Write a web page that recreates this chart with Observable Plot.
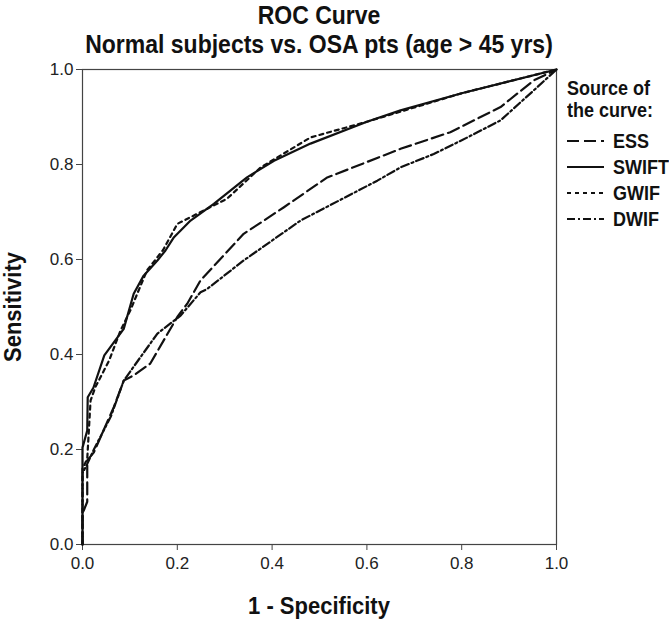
<!DOCTYPE html>
<html><head><meta charset="utf-8">
<script src="https://cdn.jsdelivr.net/npm/d3@7"></script>
<script src="https://cdn.jsdelivr.net/npm/@observablehq/plot@0.6"></script>
<style>
body{margin:0;background:#fff;}
#wrap{position:relative;width:671px;height:623px;font-family:"Liberation Sans",Arial,sans-serif;color:#111;}
#wrap > svg{position:absolute;left:0;top:0;}
.t{position:absolute;font-weight:bold;white-space:nowrap;line-height:1;}
.ctr{left:82px;width:474px;text-align:center;transform:scaleY(1.1);}
#leg{position:absolute;left:567px;top:79px;font-weight:bold;font-size:18px;line-height:1;}
#leg .row{display:flex;align-items:center;height:26px;}
#leg .row span{display:inline-block;transform:scaleY(1.1);}
#leg svg{margin-right:9px;}
</style></head>
<body>
<div id="wrap">
  <div class="t ctr" style="top:4px;font-size:23px;">ROC Curve</div>
  <div class="t ctr" style="top:33px;font-size:23px;">Normal subjects vs. OSA pts (age &gt; 45 yrs)</div>
  <div class="t ctr" style="top:595px;font-size:22px;">1 - Specificity</div>
  <div class="t" style="left:13px;top:307px;font-size:22px;transform:translate(-50%,-50%) rotate(-90deg) scaleY(1.1);">Sensitivity</div>
  <div id="leg"></div>
</div>
<script>
// Tick values
const xTicks = [0, 0.2, 0.4, 0.6, 0.8, 1.0];
const yTicks = [0, 0.2, 0.4, 0.6, 0.8, 1.0];

// Series names (legend order)
const seriesNames = ["ESS", "SWIFT", "GWIF", "DWIF"];

// ESS (1 - specificity, sensitivity)
const essX = [0, 0, 0.01, 0.01, 0.024, 0.066, 0.087, 0.108, 0.143, 0.2, 0.221, 0.249, 0.34, 0.425, 0.515, 0.671, 0.776, 0.882, 0.917, 0.952, 1];
const essY = [0, 0.065, 0.09, 0.177, 0.194, 0.289, 0.345, 0.356, 0.381, 0.479, 0.507, 0.556, 0.654, 0.71, 0.772, 0.833, 0.868, 0.921, 0.949, 0.977, 1];

// SWIFT
const swiftX = [0, 0, 0.01, 0.011, 0.023, 0.046, 0.087, 0.108, 0.129, 0.158, 0.175, 0.193, 0.228, 0.277, 0.347, 0.404, 0.481, 0.6, 0.671, 0.8, 1];
const swiftY = [0, 0.204, 0.24, 0.31, 0.33, 0.398, 0.454, 0.528, 0.566, 0.598, 0.619, 0.647, 0.682, 0.717, 0.773, 0.808, 0.844, 0.89, 0.914, 0.95, 1];

// GWIF
const gwifX = [0, 0, 0.01, 0.017, 0.027, 0.056, 0.08, 0.101, 0.136, 0.17, 0.2, 0.305, 0.376, 0.481, 0.6, 0.8, 1];
const gwifY = [0, 0.16, 0.18, 0.303, 0.331, 0.387, 0.45, 0.493, 0.577, 0.62, 0.675, 0.728, 0.794, 0.857, 0.89, 0.95, 1];

// DWIF
const dwifX = [0, 0, 0.01, 0.024, 0.06, 0.087, 0.122, 0.158, 0.207, 0.249, 0.263, 0.34, 0.46, 0.622, 0.671, 0.741, 0.812, 0.882, 0.952, 1];
const dwifY = [0, 0.15, 0.17, 0.2, 0.27, 0.345, 0.394, 0.444, 0.482, 0.531, 0.538, 0.598, 0.682, 0.766, 0.794, 0.822, 0.857, 0.893, 0.956, 1];

const dashes = {ESS: "12,5", SWIFT: "none", GWIF: "4,4", DWIF: "8,3,2,3"};

function rows(name, xs, ys) { return xs.map((x, i) => ({series: name, fpr: x, tpr: ys[i]})); }
const data = [
  ...rows("ESS", essX, essY),
  ...rows("SWIFT", swiftX, swiftY),
  ...rows("GWIF", gwifX, gwifY),
  ...rows("DWIF", dwifX, dwifY)
];

const chart = Plot.plot({
  width: 671, height: 623,
  marginLeft: 82, marginRight: 115, marginTop: 69, marginBottom: 79,
  style: {fontFamily: '"Liberation Sans",Arial,sans-serif', fontSize: "17px", color: "#222", background: "transparent"},
  x: {domain: [0, 1], label: null},
  y: {domain: [0, 1], label: null},
  marks: [
    Plot.frame({stroke: "#444", strokeWidth: 1.2}),
    Plot.axisX({ticks: xTicks, tickFormat: d3.format(".1f"), tickSize: 6, tickPadding: 6, label: null, stroke: "#444"}),
    Plot.axisY({ticks: yTicks, tickFormat: d3.format(".1f"), tickSize: 6, tickPadding: 3, label: null, stroke: "#444"}),
    ...seriesNames.map(s => Plot.line(data.filter(d => d.series === s), {
      x: "fpr", y: "tpr", stroke: "#111", strokeWidth: 2.2,
      strokeDasharray: dashes[s] === "none" ? null : dashes[s], curve: "linear"
    }))
  ]
});
document.getElementById("wrap").prepend(chart);

// Legend
const leg = document.getElementById("leg");
leg.innerHTML = '<div style="line-height:20px;margin-bottom:9px;transform:scaleY(1.1);">Source of<br>the curve:</div>';
for (const s of seriesNames) {
  const row = document.createElement("div");
  row.className = "row";
  const dash = dashes[s] === "none" ? "" : `stroke-dasharray="${dashes[s]}"`;
  row.innerHTML = `<svg width="37" height="6"><line x1="0" y1="3" x2="37" y2="3" stroke="#111" stroke-width="2.2" ${dash}/></svg><span>${s}</span>`;
  leg.appendChild(row);
}
</script>
</body></html>
